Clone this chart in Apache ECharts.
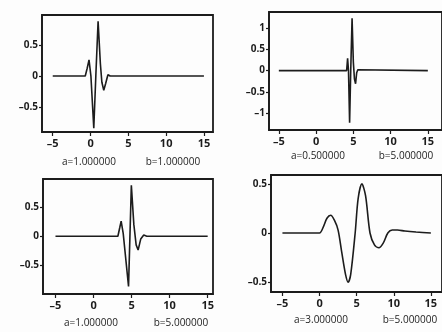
<!DOCTYPE html>
<html>
<head>
<meta charset="utf-8">
<script src="https://cdn.jsdelivr.net/npm/echarts@6/dist/echarts.min.js"></script>
<style>
  html, body { margin: 0; padding: 0; background: #fdfdfd; }
  #chart { width: 442px; height: 332px; }
</style>
</head>
<body>
<div id="chart"></div>
<script>
// values, one [t, psi] list per panel
var wave1 = [[-5,0],[-0.7,0],[-0.45,0.12],[-0.2,0.26],[0.05,0],[0.43,-0.84],[0.7,0],[1.0,0.88],[1.3,0.2],[1.5,-0.1],[1.75,-0.23],[2.0,-0.12],[2.3,0.02],[2.6,0],[15,0]];
var wave2 = [[-5,0],[4.1,0],[4.23,0.29],[4.35,0],[4.5,-1.23],[4.65,0],[4.83,1.23],[5.0,0.2],[5.15,-0.2],[5.3,-0.31],[5.45,-0.05],[5.6,0.02],[5.8,0],[15,0]];
var wave3 = [[-5,0],[3.2,0],[3.45,0.15],[3.63,0.26],[3.9,0.05],[4.6,-0.87],[4.97,0.88],[5.3,0.2],[5.6,-0.15],[5.86,-0.24],[6.2,-0.05],[6.6,0.02],[7,0],[15,0]];
var wave4 = [[-5,0],[-1,0],[0,0],[0.5,0.06],[1,0.15],[1.5,0.18],[2,0.13],[2.5,0.03],[3,-0.2],[3.5,-0.42],[3.85,-0.5],[4.2,-0.42],[4.8,0],[5.2,0.35],[5.7,0.5],[6.2,0.38],[6.8,0],[7.4,-0.12],[8,-0.15],[8.6,-0.1],[9.2,0],[9.8,0.03],[10.5,0.03],[11.5,0.02],[13,0.01],[15,0]];

var xTicks = [-5, 0, 5, 10, 15];
var yTicks1 = [-0.5, 0, 0.5];
var yTicks2 = [-1, -0.5, 0, 0.5, 1];
var captions = [
  ['a=1.000000', 'b=1.000000'],
  ['a=0.500000', 'b=5.000000'],
  ['a=1.000000', 'b=5.000000'],
  ['a=3.000000', 'b=5.000000']
];

var ink = '#1c1c1c';
var font = 'Open Sans';

var grids = [
  { left: 42, top: 15, width: 171, height: 117 },
  { left: 269, top: 12, width: 180, height: 118 },
  { left: 43, top: 179, width: 170, height: 115 },
  { left: 271, top: 175, width: 178, height: 117 }
];
var xRanges = [[-6.42, 16.2], [-6.32, 16.9], [-6.64, 15.7], [-6.54, 16.5]];
var yRanges = [[-0.90, 0.98], [-1.40, 1.38], [-1.0, 0.99], [-0.60, 0.59]];
var yTickSets = [yTicks1, yTicks2, yTicks1, yTicks1];
var waves = [wave1, wave2, wave3, wave4];

function dash(v) { return String(v).replace('-', '\u2013'); }

var option = {
  backgroundColor: '#fdfdfd',
  animation: false,
  grid: grids.map(function (g) {
    return Object.assign({ show: true, borderColor: ink, borderWidth: 1.8, backgroundColor: 'transparent' }, g);
  }),
  xAxis: grids.map(function (g, i) {
    return {
      type: 'value', gridIndex: i, min: xRanges[i][0], max: xRanges[i][1],
      splitLine: { show: false },
      axisLine: { show: true, onZero: false, lineStyle: { color: ink, width: 1.6 } },
      axisTick: { show: true, customValues: xTicks, length: 4, lineStyle: { color: ink, width: 1.2 } },
      axisLabel: { customValues: xTicks, margin: 6, color: ink, fontSize: 11, fontWeight: 'bold', fontFamily: font, formatter: dash }
    };
  }),
  yAxis: grids.map(function (g, i) {
    return {
      type: 'value', gridIndex: i, min: yRanges[i][0], max: yRanges[i][1],
      splitLine: { show: false },
      axisLine: { show: true, onZero: false, lineStyle: { color: ink, width: 1.6 } },
      axisTick: { show: true, customValues: yTickSets[i], length: 3, lineStyle: { color: ink, width: 1.2 } },
      axisLabel: { customValues: yTickSets[i], margin: 4, color: ink, fontSize: 10, fontWeight: 'bold', fontFamily: font, formatter: dash }
    };
  }),
  series: waves.map(function (w, i) {
    return {
      type: 'line', xAxisIndex: i, yAxisIndex: i, data: w,
      showSymbol: false, smooth: i === 3 ? 0.3 : false,
      lineStyle: { color: ink, width: 1.6 }
    };
  }),
  graphic: []
};

// a= / b= captions under each panel
var capPos = [
  [[89, 162], [173, 162]],
  [[318, 156], [406, 156]],
  [[91, 323], [181, 323]],
  [[321, 320], [410, 320]]
];
captions.forEach(function (c, i) {
  c.forEach(function (txt, j) {
    option.graphic.push({
      type: 'text', x: capPos[i][j][0], y: capPos[i][j][1],
      style: { text: txt, fill: ink, font: '10px "' + font + '"', textAlign: 'center', textVerticalAlign: 'middle' }
    });
  });
});

var myChart = echarts.init(document.getElementById('chart'));
myChart.setOption(option);
</script>
</body>
</html>
